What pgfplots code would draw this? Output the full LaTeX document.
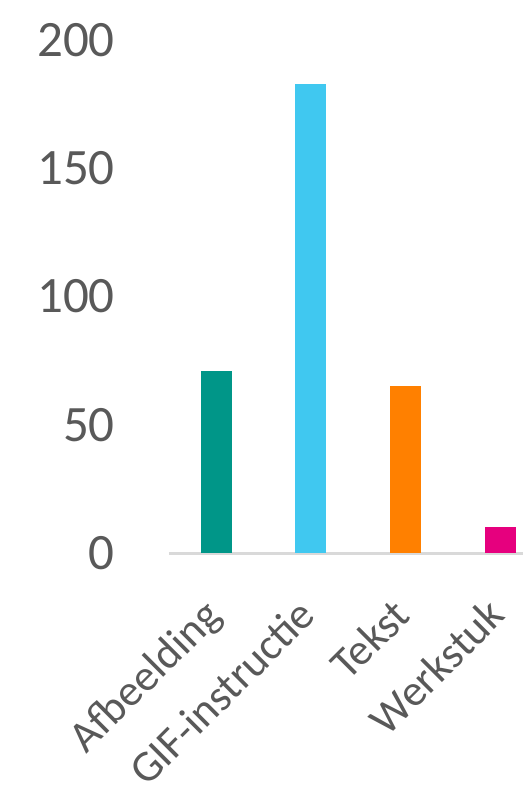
\documentclass[border=0pt]{standalone}
\usepackage{pgfplots}
\pgfplotsset{compat=1.18}
\usepackage{fontspec}
\setmainfont{Carlito}
\definecolor{tl}{HTML}{595959}
\definecolor{axgray}{HTML}{D9D9D9}
\definecolor{cteal}{HTML}{009688}
\definecolor{csky}{HTML}{40C8F0}
\definecolor{corange}{HTML}{FF8000}
\definecolor{cmag}{HTML}{E6007E}
\begin{document}
\begin{tikzpicture}
\begin{axis}[
  at={(169pt,240pt)}, anchor=south west,
  scale only axis, width=354pt, height=513pt,
  xmin=-0.5, xmax=3.24, ymin=0, ymax=200,
  xtick={0,1,2,3}, xticklabels={Afbeelding,GIF-instructie,Tekst,Werkstuk},
  ytick={0,50,100,150,200},
  axis x line*=bottom, axis y line*=left,
  y axis line style={draw=none},
  x axis line style={draw=axgray, line width=3pt},
  major tick length=0pt,
  tick style={draw=none},
  ticklabel style={text=tl},
  /pgf/number format/assume math mode=true,
  yticklabel style={font=\fontsize{51}{60}\selectfont, anchor=east, inner sep=0pt, xshift=-54pt},
  xticklabel style={font=\fontsize{44}{52}\selectfont, xshift=-15pt, yshift=-43pt, rotate=45, anchor=north east, inner sep=0pt},
  ybar, bar width=31pt,
  clip=false,
]
\addplot[fill=cteal, draw=none, bar shift=0pt] coordinates {(0,71)};
\addplot[fill=csky, draw=none, bar shift=0pt] coordinates {(1,183)};
\addplot[fill=corange, draw=none, bar shift=0pt] coordinates {(2,65)};
\addplot[fill=cmag, draw=none, bar shift=0pt] coordinates {(3,10)};
\end{axis}
\pgfresetboundingbox
\path (0,0) rectangle (523pt,793pt);
\end{tikzpicture}
\end{document}
